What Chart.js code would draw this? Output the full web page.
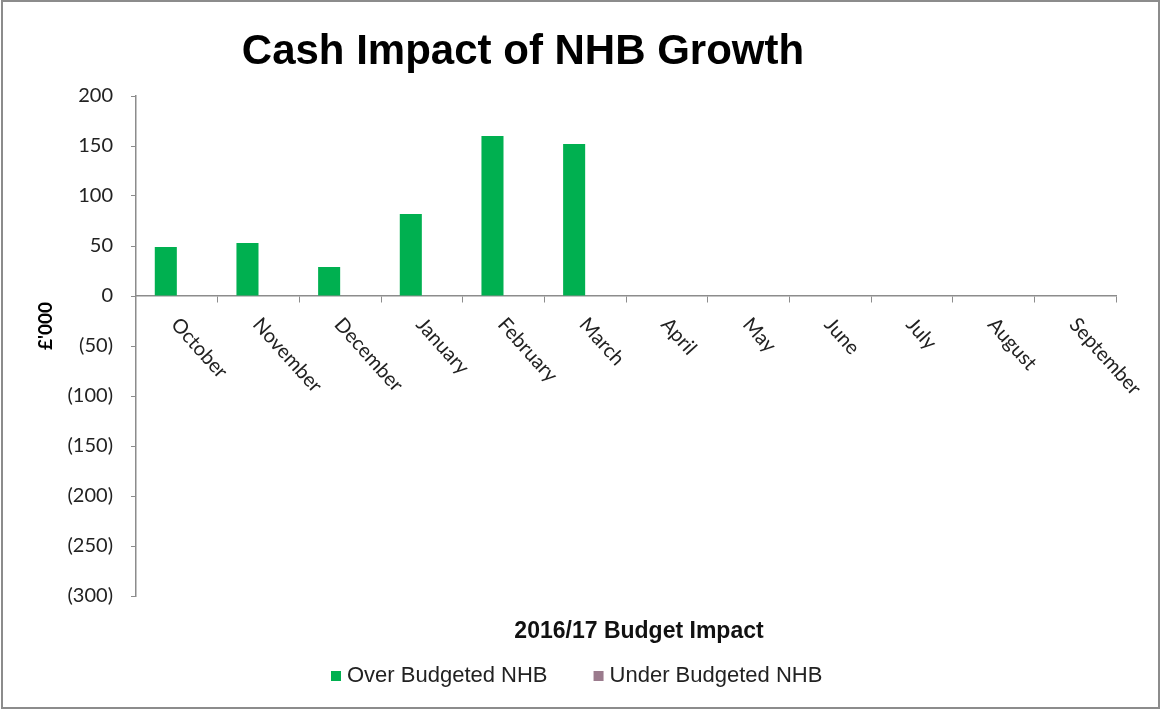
<!DOCTYPE html>
<html>
<head>
<meta charset="utf-8">
<script src="https://cdn.jsdelivr.net/npm/chart.js@4/dist/chart.umd.min.js"></script>
<style>
  body { margin: 0; background: #fff; }
  canvas { display: block; }
</style>
</head>
<body>
<canvas id="myChart" width="1161" height="709"></canvas>
<script>
const months = ['October', 'November', 'December', 'January', 'February', 'March',
  'April', 'May', 'June', 'July', 'August', 'September']
const overBudgeted = [49, 53, 29, 82, 160, 152, null, null, null, null, null, null]
const underBudgeted = [null, null, null, null, null, null, null, null, null, null, null, null]
const yTicks = { min: -300, max: 200, step: 50 }

const arial = '"Liberation Sans", Arial'

// border, title, axis titles, legend and the slanted month names
const extras = {
  id: 'extras',
  beforeDraw(chart) {
    const ctx = chart.ctx
    ctx.save()
    ctx.fillStyle = '#fff'
    ctx.fillRect(0, 0, chart.width, chart.height)
    ctx.strokeStyle = '#8c8c8c'
    ctx.lineWidth = 2
    ctx.strokeRect(2, 1, chart.width - 4, chart.height - 2)
    ctx.restore()
  },
  afterDraw(chart) {
    const ctx = chart.ctx,
      x = chart.scales.x,
      y = chart.scales.y,
      y0 = y.getPixelForValue(0)
    ctx.save()
    ctx.fillStyle = '#000'
    ctx.font = 'bold 42px ' + arial
    ctx.textAlign = 'center'
    ctx.textBaseline = 'middle'
    ctx.fillText('Cash Impact of NHB Growth', 523, 52)

    ctx.font = 'bold 23px ' + arial
    ctx.fillStyle = '#111'
    ctx.fillText('2016/17 Budget Impact', 639, 632)

    ctx.save()
    ctx.translate(46, 326)
    ctx.rotate(-Math.PI / 2)
    ctx.font = 'bold 19px Lato'
    ctx.fillStyle = '#000'
    ctx.fillText('£\'000', 0, 0)
    ctx.restore()

    // legend
    ctx.font = '22px ' + arial
    ctx.textAlign = 'left'
    ctx.fillStyle = '#222'
    let lx = 331
    chart.data.datasets.forEach((ds) => {
      ctx.fillStyle = ds.backgroundColor
      ctx.fillRect(lx, 671, 10, 10)
      ctx.fillStyle = '#222'
      ctx.fillText(ds.label, lx + 16, 676)
      lx += 16 + ctx.measureText(ds.label).width + 46
    })

    ctx.font = '20px Lato'
    ctx.fillStyle = '#222'
    for (let i = 0; i < months.length; i++) {
      ctx.save()
      ctx.translate(x.getPixelForTick(i) - 2, y0 + 25)
      ctx.rotate(48 * Math.PI / 180)
      ctx.fillText(months[i], 0, 0)
      ctx.restore()
    }
    ctx.restore()
  }
}

const ctx = document.getElementById('myChart').getContext('2d')
const chart = new Chart(ctx, {
  type: 'bar',
  data: {
    labels: months,
    datasets: [
      {
        label: 'Over Budgeted NHB',
        data: overBudgeted,
        backgroundColor: '#00b050'
      },
      {
        label: 'Under Budgeted NHB',
        data: underBudgeted,
        backgroundColor: '#9b7b8d'
      }
    ]
  },
  options: {
    responsive: false,
    animation: false,
    categoryPercentage: 0.54,
    barPercentage: 1,
    layout: { padding: { left: 10, top: 96, right: 45, bottom: 113 } },
    plugins: {
      title: { display: false },
      tooltip: { enabled: false },
      legend: { display: false }
    },
    scales: {
      x: {
        position: { y: 0 },
        ticks: { display: false },
        grid: { drawOnChartArea: false, drawTicks: true, tickLength: 6, color: '#8c8c8c', offset: true },
        border: { color: '#8c8c8c', width: 1.5 }
      },
      y: {
        min: yTicks.min,
        max: yTicks.max,
        afterFit(scale) { scale.width = 126 },
        ticks: {
          stepSize: yTicks.step,
          padding: 18,
          color: '#222',
          font: { family: 'Lato', size: 20 },
          callback: (v) => (v < 0 ? '(' + Math.abs(v) + ')' : String(v))
        },
        grid: { drawOnChartArea: false, drawTicks: true, tickLength: 5, color: '#8c8c8c' },
        border: { color: '#8c8c8c', width: 1.5 }
      }
    }
  },
  plugins: [extras]
})
</script>
</body>
</html>
